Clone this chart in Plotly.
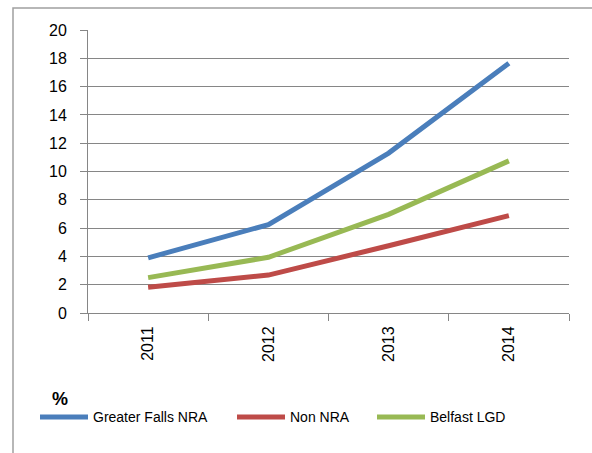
import plotly.graph_objects as go

years = ["2011", "2012", "2013", "2014"]
greater_falls = [3.9, 6.25, 11.3, 17.65]
non_nra = [1.82, 2.68, 4.75, 6.88]
belfast_lgd = [2.5, 3.94, 6.97, 10.75]
y_ticks = list(range(0, 21, 2))

series = [
    ("Greater Falls NRA", greater_falls, "#4A7EBB"),
    ("Non NRA", non_nra, "#BE4B48"),
    ("Belfast LGD", belfast_lgd, "#98B954"),
]

W, H = 592, 453
L, R, T, B = 88, 23, 30, 139.5
pw, ph = W - L - R, H - T - B

def px(x):
    return (x - L) / pw

def py(y):
    return (H - B - y) / ph

legend_ids = ["legend", "legend2", "legend3"]
legend_text_x = [93, 290, 430]

fig = go.Figure()
for (name, vals, col), lid in zip(series, legend_ids):
    fig.add_trace(go.Scatter(x=years, y=vals, name=name, mode="lines",
                             line=dict(color=col, width=5), legend=lid))

legend_common = dict(orientation="h", yanchor="middle", xanchor="left",
                     font=dict(size=14), bgcolor="rgba(0,0,0,0)",
                     itemwidth=48, borderwidth=0)
legend_layouts = {}
for lid, tx in zip(legend_ids, legend_text_x):
    legend_layouts[lid] = dict(legend_common, x=px(tx - 58), y=py(418))

fig.update_layout(
    width=W, height=H,
    margin=dict(l=L, r=R, t=T, b=B),
    paper_bgcolor="white", plot_bgcolor="white",
    font=dict(family="Liberation Sans, Arial, sans-serif", color="#000000"),
    showlegend=True,
    xaxis=dict(type="category", showgrid=False, showline=True, linecolor="#868686",
               linewidth=1, ticks="outside", ticklen=7, tickcolor="#868686",
               tickson="boundaries", tickangle=-90, tickfont=dict(size=16),
               ticklabelstandoff=6, range=[-0.5, 3.5], zeroline=False),
    yaxis=dict(range=[0, 20], tickvals=y_ticks, showgrid=True, gridcolor="#868686",
               gridwidth=1, showline=True, linecolor="#868686", linewidth=1,
               ticks="outside", ticklen=7, tickcolor="#868686", tickfont=dict(size=16),
               ticklabelstandoff=10, zeroline=False),
    shapes=[dict(type="rect", xref="paper", yref="paper", x0=px(13), x1=px(600),
                 y0=py(470), y1=py(8), line=dict(color="#A0A0A0", width=1.5),
                 fillcolor="rgba(0,0,0,0)", layer="below")],
    annotations=[dict(text="<b>%</b>", xref="paper", yref="paper", x=px(60), y=py(400),
                      showarrow=False, font=dict(size=18), xanchor="center", yanchor="middle")],
    **legend_layouts,
)

fig.write_html("out.html", config={"displayModeBar": False},
               post_script="document.body.style.margin='0';")
